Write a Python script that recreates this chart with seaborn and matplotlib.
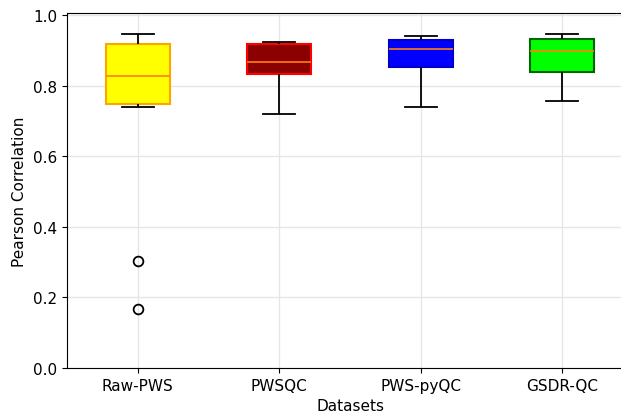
import matplotlib
matplotlib.use("Agg")
import matplotlib.pyplot as plt
import pandas as pd
import seaborn as sns

datasets = ["Raw-PWS", "PWSQC", "PWS-pyQC", "GSDR-QC"]
raw_pws = [0.167, 0.303, 0.739, 0.748, 0.78, 0.80, 0.827, 0.86, 0.90, 0.918, 0.93, 0.94, 0.946]
pwsqc = [0.720, 0.80, 0.833, 0.85, 0.867, 0.90, 0.918, 0.92, 0.923]
pws_pyqc = [0.739, 0.80, 0.853, 0.88, 0.904, 0.92, 0.929, 0.935, 0.940]
gsdr_qc = [0.756, 0.80, 0.838, 0.87, 0.899, 0.92, 0.932, 0.94, 0.946]

face_colors = ["yellow", "darkred", "blue", "lime"]
edge_colors = ["orange", "red", "mediumblue", "darkgreen"]

df = pd.concat([
    pd.DataFrame({"Datasets": name, "Pearson Correlation": vals})
    for name, vals in zip(datasets, [raw_pws, pwsqc, pws_pyqc, gsdr_qc])
])

fig = plt.figure(figsize=(6.21, 4.14), dpi=100)
ax = fig.add_axes([67 / 621, 45 / 414, 566 / 621, 355 / 414])

sns.boxplot(df, x="Datasets", y="Pearson Correlation", hue="Datasets",
            palette=dict(zip(datasets, face_colors)), saturation=1,
            width=0.45, legend=False,
            whiskerprops={"color": "black", "linewidth": 1.3},
            capprops={"color": "black", "linewidth": 1.3},
            medianprops={"color": "#ff7f0e", "linewidth": 1.2},
            flierprops={"marker": "o", "markerfacecolor": "none",
                        "markeredgecolor": "black", "markersize": 7,
                        "markeredgewidth": 1.3},
            ax=ax)

for patch, ec in zip(ax.patches, edge_colors):
    patch.set_edgecolor(ec)
    patch.set_linewidth(1.5)

ax.set_ylim(0, 1.006)
ax.set_xlim(-0.5, 3.5)
ax.set_yticks([0.0, 0.2, 0.4, 0.6, 0.8, 1.0])
ax.spines["right"].set_visible(False)
ax.grid(True, color="#e6e6e6", linewidth=1)
ax.set_axisbelow(True)
ax.tick_params(labelsize=11)
ax.set_xlabel("Datasets", fontsize=11)
ax.set_ylabel("Pearson Correlation", fontsize=11)

fig.savefig("out.png", dpi=100)
